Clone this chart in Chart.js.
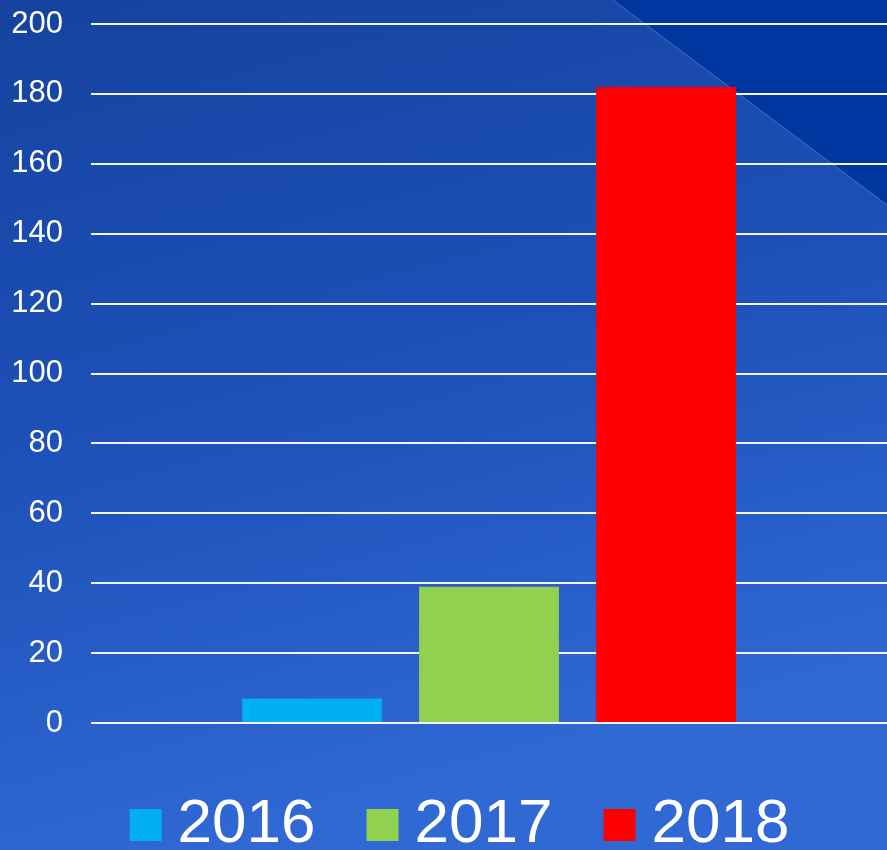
<!DOCTYPE html>
<html>
<head>
<meta charset="utf-8">
<script src="https://cdn.jsdelivr.net/npm/chart.js@4/dist/chart.umd.min.js"></script>
<style>
  html, body { margin: 0; padding: 0; background: #1a4cb5; }
  #wrap { width: 887px; height: 850px; position: relative; }
</style>
</head>
<body>
<div id="wrap"><canvas id="bar-chart"></canvas></div>
<script>
const categories = [''];
const seriesNames = ['2016', '2017', '2018'];
const seriesValues = [[7], [39], [182]];
const seriesColors = ['#00b0f0', '#92d050', '#ff0000'];
const yTicks = [0, 20, 40, 60, 80, 100, 120, 140, 160, 180, 200];

// slide-like background: blue gradient plus darker corner triangle
const slideBackground = {
    id: 'slideBackground',
    beforeDraw(chart) {
        const {ctx, width, height} = chart;
        ctx.save();
        const g = ctx.createLinearGradient(0, 0, width * 0.25, height);
        g.addColorStop(0, '#15439f');
        g.addColorStop(0.5, '#1d50b8');
        g.addColorStop(1, '#3068d4');
        ctx.fillStyle = g;
        ctx.fillRect(0, 0, width, height);

        ctx.beginPath();
        ctx.moveTo(width * 0.691, 0);
        ctx.lineTo(width, 0);
        ctx.lineTo(width, height * 0.241);
        ctx.closePath();
        ctx.fillStyle = '#0036a0';
        ctx.fill();
        ctx.beginPath();
        ctx.moveTo(width * 0.691, 0);
        ctx.lineTo(width, height * 0.241);
        ctx.strokeStyle = 'rgba(120,160,230,0.5)';
        ctx.lineWidth = 1;
        ctx.stroke();
        ctx.restore();
    }
};

// nudge the legend so it sits where the original slide had it
const legendNudge = {
    id: 'legendNudge',
    afterLayout(chart) {
        const lg = chart.legend;
        if (!lg) return;
        lg.left += 18; lg.right += 18;
        lg.top += 5; lg.bottom += 5;
    }
};

new Chart(document.getElementById('bar-chart'), {
    type: 'bar',
    data: {
        labels: categories,
        datasets: seriesNames.map((name, i) => ({
            label: name,
            data: seriesValues[i],
            backgroundColor: seriesColors[i],
            borderWidth: 0,
            categoryPercentage: 0.667,
            barPercentage: 0.79
        }))
    },
    options: {
        responsive: true,
        maintainAspectRatio: false,
        animation: false,
        layout: {
            padding: {left: 11, top: 24, right: 0, bottom: -11}
        },
        scales: {
            x: {
                display: false
            },
            y: {
                min: yTicks[0],
                max: yTicks[yTicks.length - 1],
                afterBuildTicks(axis) {
                    axis.ticks = yTicks.map(v => ({value: v}));
                },
                afterFit(axis) {
                    axis.width = 80;
                    axis.paddingTop = 0;
                    axis.paddingBottom = 0;
                },
                border: {display: false},
                grid: {
                    color: '#f2f5fc',
                    lineWidth: 2,
                    drawTicks: false
                },
                ticks: {
                    color: '#ffffff',
                    padding: 28,
                    font: {family: 'Liberation Sans, Arial, sans-serif', size: 31}
                }
            }
        },
        plugins: {
            legend: {
                position: 'bottom',
                labels: {
                    color: '#ffffff',
                    usePointStyle: true,
                    pointStyle: 'rect',
                    boxWidth: 2,
                    boxHeight: 32,
                    padding: 66,
                    font: {family: 'Liberation Sans, Arial, sans-serif', size: 62}
                }
            },
            tooltip: {enabled: false}
        }
    },
    plugins: [slideBackground, legendNudge]
});
</script>
</body>
</html>
